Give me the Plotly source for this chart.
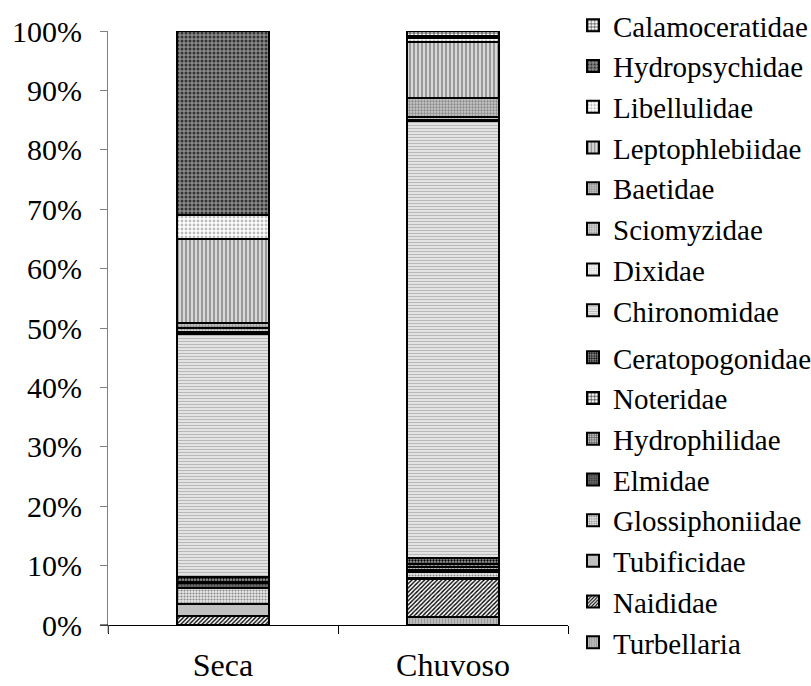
import plotly.graph_objects as go

categories = ["Seca", "Chuvoso"]

families = ["Turbellaria", "Naididae", "Tubificidae", "Glossiphoniidae", "Elmidae",
            "Hydrophilidae", "Noteridae", "Ceratopogonidae", "Chironomidae", "Dixidae",
            "Sciomyzidae", "Baetidae", "Leptophlebiidae", "Libellulidae",
            "Hydropsychidae", "Calamoceratidae"]

seca = [0.0, 1.5, 2.0, 2.7, 0.8, 0.3, 0.0, 0.8, 40.9, 0.4, 0.6, 0.8, 14.2, 4.0, 31.0, 0.0]
chuvoso = [1.3, 6.4, 0.2, 1.0, 0.3, 0.5, 0.6, 1.0, 73.5, 0.3, 0.5, 3.1, 9.5, 0.6, 0.4, 0.8]

y_ticks = [0, 10, 20, 30, 40, 50, 60, 70, 80, 90, 100]

# pattern styles: (shape, fg, bg, size, solidity)
styles = {
    "Turbellaria": ("|", "#999999", "#c4c4c4", 3, 0.5),
    "Naididae": ("/", "#000000", "#ffffff", 3, 0.45),
    "Tubificidae": ("", "#c0c0c0", "#c0c0c0", 4, 0.3),
    "Glossiphoniidae": (".", "#888888", "#e8e8e8", 3, 0.4),
    "Elmidae": (".", "#333333", "#6a6a6a", 3, 0.4),
    "Hydrophilidae": ("+", "#555555", "#bbbbbb", 3, 0.4),
    "Noteridae": ("+", "#000000", "#ffffff", 4, 0.35),
    "Ceratopogonidae": (".", "#000000", "#9a9a9a", 3, 0.45),
    "Chironomidae": ("-", "#b8b8b8", "#f2f2f2", 3, 0.5),
    "Dixidae": (".", "#cccccc", "#f4f4f4", 3, 0.4),
    "Sciomyzidae": (".", "#999999", "#dddddd", 3, 0.45),
    "Baetidae": (".", "#888888", "#c8c8c8", 3, 0.45),
    "Leptophlebiidae": ("|", "#999999", "#d8d8d8", 4, 0.5),
    "Libellulidae": (".", "#bbbbbb", "#ffffff", 4, 0.4),
    "Hydropsychidae": (".", "#333333", "#8a8a8a", 4, 0.45),
    "Calamoceratidae": ("+", "#000000", "#ffffff", 4, 0.3),
}

fig = go.Figure()
for i, fam in enumerate(families):
    shape, fg, bg, size, sol = styles[fam]
    fig.add_trace(go.Bar(
        name=fam,
        x=categories,
        y=[seca[i], chuvoso[i]],
        width=0.4,
        legendgroup=fam,
        legend="legend2" if i < 8 else "legend",
        marker=dict(
            color=bg,
            line=dict(color="black", width=2),
            pattern=dict(shape=shape, fgcolor=fg, bgcolor=bg, size=size,
                         solidity=sol, fillmode="replace"),
        ),
    ))

font = "Liberation Serif"
leg_common = dict(
    traceorder="reversed",
    xref="container", xanchor="left", x=573 / 811,
    yref="container", yanchor="top",
    font=dict(family=font, size=29, color="black"),
    tracegroupgap=5,
    bgcolor="rgba(0,0,0,0)",
)

plot_w, plot_h = 811 - 108 - 243, 686 - 31 - 61
fig.update_layout(
    width=811, height=686,
    margin=dict(l=108, r=243, t=31, b=61, autoexpand=False),
    barmode="stack",
    paper_bgcolor="white",
    plot_bgcolor="white",
    font=dict(family=font, size=28, color="black"),
    showlegend=True,
    legend=dict(leg_common, y=1 + 5 / 686),
    legend2=dict(leg_common, y=1 - 332 / 686),
    xaxis=dict(
        type="category",
        automargin=False,
        showline=True, linecolor="black", linewidth=1,
        ticks="outside", tickson="boundaries", ticklen=8, tickcolor="black",
        ticklabelstandoff=12,
        showgrid=False,
        tickfont=dict(family=font, size=32, color="black"),
    ),
    yaxis=dict(
        automargin=False,
        range=[0, 100],
        tickvals=y_ticks,
        ticktext=[f"{v}%" for v in y_ticks],
        showline=True, linecolor="#808080", linewidth=1,
        ticks="outside", ticklen=7, tickcolor="#808080",
        showgrid=False, zeroline=False,
        ticklabelstandoff=12,
        tickfont=dict(family=font, size=30, color="black"),
    ),
    shapes=[
        # x-axis line extends slightly left of the y-axis
        dict(type="line", xref="paper", yref="paper",
             x0=-8 / plot_w, x1=0, y0=0, y1=0,
             line=dict(color="black", width=1)),
        # y-axis line extends slightly below the x-axis
        dict(type="line", xref="paper", yref="paper",
             x0=0, x1=0, y0=-8 / plot_h, y1=0,
             line=dict(color="#808080", width=1)),
    ],
)

fig.write_html("out.html")
